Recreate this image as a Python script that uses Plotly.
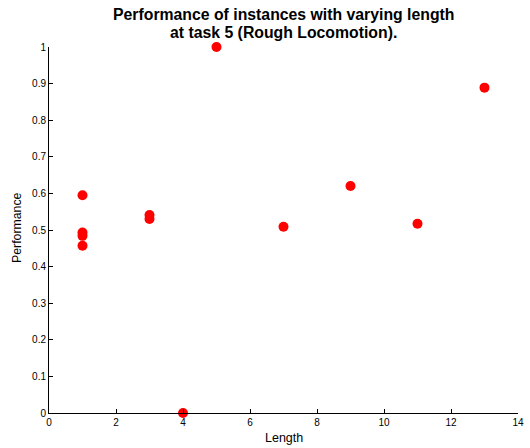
import plotly.graph_objects as go

lengths = [1, 1, 1, 1, 3, 3, 4, 5, 7, 9, 11, 13]
performance = [0.595, 0.493, 0.484, 0.457, 0.541, 0.530, 0.0, 1.0, 0.509, 0.620, 0.517, 0.889]

x_ticks = [0, 2, 4, 6, 8, 10, 12, 14]
y_ticks = [0, 0.1, 0.2, 0.3, 0.4, 0.5, 0.6, 0.7, 0.8, 0.9, 1]

W, H = 530, 448
L, R, T, B = 49, 12, 47, 35
pw, ph = W - L - R, H - T - B


def py(y_win):
    """window pixel y -> paper coordinate"""
    return ((T + ph) - y_win) / ph


def px(x_win):
    return (x_win - L) / pw


fig = go.Figure()
fig.add_trace(go.Scatter(
    x=lengths, y=performance, mode="markers",
    marker=dict(color="#ff0000", size=10, line=dict(width=0)),
    cliponaxis=False, showlegend=False, hoverinfo="skip",
))

font = "Liberation Sans, Arial, sans-serif"
fig.update_layout(
    width=W, height=H,
    margin=dict(l=L, r=R, t=T, b=B, autoexpand=False),
    paper_bgcolor="white", plot_bgcolor="white",
    font=dict(family=font, color="#000000", size=10),
    hovermode=False,
)
fig.add_annotation(
    text="<b>Performance of instances with varying length</b>",
    xref="paper", yref="paper", x=0.5, y=py(14.5),
    xanchor="center", yanchor="middle", showarrow=False,
    font=dict(family=font, size=15.8, color="#000000"),
)
fig.add_annotation(
    text="<b>at task 5 (Rough Locomotion).</b>",
    xref="paper", yref="paper", x=0.5, y=py(32.5),
    xanchor="center", yanchor="middle", showarrow=False,
    font=dict(family=font, size=15.8, color="#000000"),
)
fig.add_annotation(
    text="Length", xref="paper", yref="paper", x=0.5, y=py(438),
    xanchor="center", yanchor="middle", showarrow=False,
    font=dict(family=font, size=12.5, color="#000000"),
)
fig.add_annotation(
    text="Performance", xref="paper", yref="paper", x=px(17), y=py(228),
    xanchor="center", yanchor="middle", showarrow=False, textangle=-90,
    font=dict(family=font, size=12.3, color="#000000"),
)
fig.update_xaxes(
    range=[0, 14], tickvals=x_ticks, ticktext=[str(v) for v in x_ticks],
    showgrid=False, zeroline=False, showline=True, linecolor="black", linewidth=1,
    ticks="inside", ticklen=4, tickcolor="black", automargin=False,
    tickfont=dict(size=10),
)
fig.update_yaxes(
    range=[0, 1], tickvals=y_ticks, ticktext=[("%g" % v) for v in y_ticks],
    showgrid=False, zeroline=False, showline=True, linecolor="black", linewidth=1,
    ticks="inside", ticklen=4, tickcolor="black", automargin=False,
    tickfont=dict(size=10),
)

fig.write_html(
    "out.html",
    config={"displayModeBar": False, "staticPlot": True},
    post_script="document.body.style.margin='0';document.body.style.overflow='hidden';",
)
